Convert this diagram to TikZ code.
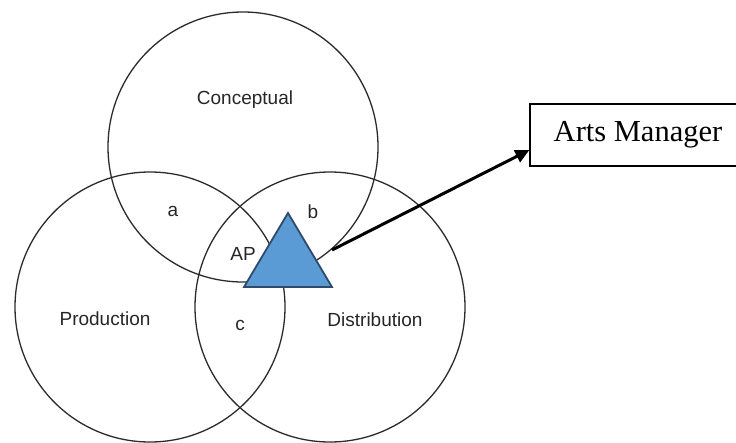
\documentclass[tikz,border=0pt]{standalone}
\usepackage{fontspec}
\setmainfont{Liberation Serif}
\newfontfamily\arialfont{Liberation Sans}
\usetikzlibrary{arrows.meta}
\definecolor{ringcol}{HTML}{2B2B2B}
\definecolor{trifill}{HTML}{5B9BD5}
\definecolor{triedge}{HTML}{2F4B6A}
\begin{document}
\begin{tikzpicture}[x=1pt,y=1pt,
  ring/.style={circle, draw=ringcol, line width=1.3pt, minimum size=270pt, inner sep=0pt},
  lbl/.style={font=\arialfont\fontsize{19}{21}\selectfont, text=black!85, inner sep=0pt},
  mgr/.style={draw=black, line width=1.2pt, minimum width=216pt, minimum height=62pt, inner sep=0pt, font=\fontsize{30.5}{32}\selectfont},
  link/.style={line width=3pt, -{Triangle[length=14pt,width=13pt]}}
]
\useasboundingbox (0,0) rectangle (736,-442);
\node[ring] (concept) at (243,-147) {};
\node[ring] (prod) at (150,-307) {};
\node[ring] (dist) at (330,-307) {};
\node[lbl] (lconcept) at (245,-100) {Conceptual};
\node[lbl] (la) at (173,-211) {a};
\node[lbl] (lb) at (313,-212) {b};
\node[lbl] (lap) at (243,-254) {AP};
\node[lbl] (lprod) at (105,-319) {Production};
\node[lbl] (lc) at (240,-325) {c};
\node[lbl] (ldist) at (375,-320) {Distribution};
\coordinate (t1) at (288,-213);
\coordinate (t2) at (244,-287);
\coordinate (t3) at (332,-287);
\draw[fill=trifill, draw=triedge, line width=1.8pt, line join=miter] (t1) -- (t2) -- (t3) -- cycle;
\node[mgr] (am) at (638,-135) {Arts Manager};
\coordinate (start) at (332,-250);
\draw[link] (start) -- ([yshift=-15pt]am.west);
\end{tikzpicture}
\end{document}
